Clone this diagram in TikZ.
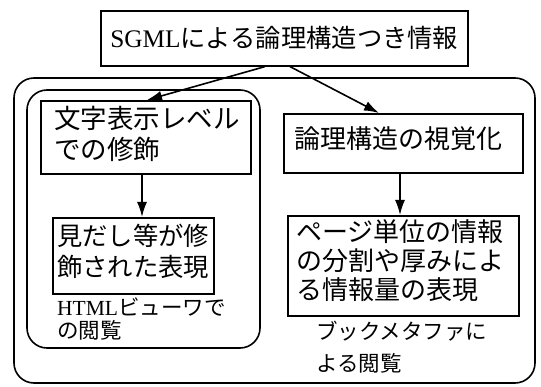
\documentclass[tikz,border=0pt]{standalone}
\usepackage{fontspec}
\setmainfont{Noto Sans CJK JP}
\newfontfamily\lat{Liberation Serif}
\usetikzlibrary{arrows.meta,calc}
\tikzset{
  box/.style={draw=black, line width=1.6pt, anchor=north west, inner sep=0pt, align=left},
  group/.style={draw=black, line width=1.6pt, rounded corners=20pt},
  arr/.style={line width=1.6pt, -{Latex[length=15pt,width=10pt]}},
  txt/.style={anchor=north west, inner sep=0pt, align=left},
}
\begin{document}
\begin{tikzpicture}[x=1pt,y=-1pt]
\useasboundingbox (0,0) rectangle (541,387);
% groups
\draw[group] (14,78) rectangle (535,383);
\draw[group] (27,90) rectangle (260,348);
% top
\node[box, minimum width=367pt, minimum height=55pt, align=center,
  font=\fontsize{25.3}{30}\selectfont] (top) at (100,10) {{\lat SGML}による論理構造つき情報};
% box A
\node[box, minimum width=210pt, minimum height=73pt] (A) at (40,100) {};
\node[txt, font=\fontsize{26.5}{31}\selectfont] (At) at (54,106) {文字表示レベル\\での修飾};
% box B
\node[box, minimum width=161pt, minimum height=76pt] (B) at (52,217) {};
\node[txt, font=\fontsize{25.3}{31}\selectfont] (Bt) at (57,224) {見だし等が修\\飾された表現};
% box C
\node[box, minimum width=239pt, minimum height=59pt] (C) at (283,113) {};
\node[txt, font=\fontsize{26}{31}\selectfont] (Ct) at (294,126) {論理構造の視覚化};
% box D
\node[box, minimum width=231pt, minimum height=100pt] (D) at (287,215) {};
\node[txt, font=\fontsize{26}{29}\selectfont] (Dt) at (296,219) {ページ単位の情報\\の分割や厚みによ\\る情報量の表現};
% labels
\node[txt, font=\fontsize{21.5}{23}\selectfont] (L1) at (57,298) {{\lat HTML}ビューワで\\の閲覧};
\node[txt, font=\fontsize{21.5}{32}\selectfont] (L2) at (316,321) {ブックメタファに\\よる閲覧};
% arrows
\draw[arr] ($(top.south west)+(165,0)$) -- ($(A.north west)+(107,0)$);
\draw[arr] ($(top.south west)+(190,0)$) -- ($(C.north west)+(96,0)$);
\draw[arr] ($(A.south west)+(102,0)$) -- ($(B.north west)+(90,0)$);
\draw[arr] ($(C.south west)+(117,0)$) -- ($(D.north west)+(113,0)$);
\end{tikzpicture}
\end{document}
